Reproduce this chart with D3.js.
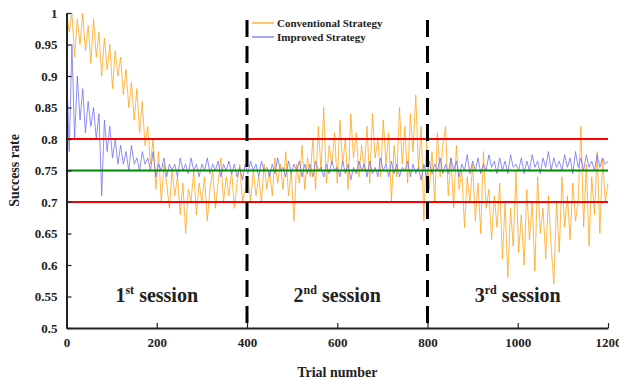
<!DOCTYPE html>
<html>
<head>
<meta charset="utf-8">
<script src="https://cdn.jsdelivr.net/npm/d3@7"></script>
<style>
	body { margin: 0; background: #fff; }
	text { font-family: "Liberation Serif", "Times New Roman", serif; font-weight: bold; fill: #222; }
</style>
</head>
<body>
<svg width="619" height="379"></svg>
<script>
// trials sampled every 6 steps, 0..1200
const step = 6;

const conventional = [
	1.0, 0.97, 1.0, 0.93, 0.99, 0.95, 1.0, 0.94, 0.98, 0.92,
	0.99, 0.93, 0.97, 0.90, 0.96, 0.91, 0.95, 0.88, 0.94, 0.90,
	0.93, 0.87, 0.91, 0.85, 0.89, 0.83, 0.88, 0.81, 0.86, 0.79,
	0.82, 0.76, 0.80, 0.72, 0.78, 0.70, 0.76, 0.73, 0.69, 0.75,
	0.71, 0.74, 0.68, 0.73, 0.65, 0.72, 0.70, 0.75, 0.68, 0.73,
	0.70, 0.74, 0.67, 0.72, 0.75, 0.69, 0.73, 0.77, 0.70, 0.74,
	0.71, 0.75, 0.69, 0.73, 0.76, 0.70, 0.72, 0.74, 0.70, 0.75,
	0.71, 0.74, 0.70, 0.76, 0.72, 0.75, 0.71, 0.77, 0.73, 0.76,
	0.72, 0.78, 0.71, 0.75, 0.67, 0.76, 0.73, 0.79, 0.72, 0.77,
	0.74, 0.80, 0.72, 0.82, 0.75, 0.85, 0.73, 0.79, 0.76, 0.81,
	0.73, 0.83, 0.76, 0.80, 0.72, 0.84, 0.77, 0.81, 0.74, 0.79,
	0.75, 0.82, 0.73, 0.84, 0.77, 0.80, 0.74, 0.83, 0.76, 0.81,
	0.70, 0.79, 0.74, 0.85, 0.76, 0.82, 0.73, 0.84, 0.78, 0.87,
	0.75, 0.82, 0.67, 0.80, 0.72, 0.78, 0.70, 0.81, 0.74, 0.79,
	0.82, 0.71, 0.77, 0.69, 0.79, 0.72, 0.75, 0.66, 0.74, 0.70,
	0.76, 0.67, 0.73, 0.65, 0.78, 0.69, 0.72, 0.64, 0.71, 0.66,
	0.73, 0.61, 0.70, 0.58, 0.69, 0.63, 0.75, 0.62, 0.68, 0.60,
	0.72, 0.64, 0.70, 0.59, 0.74, 0.65, 0.69, 0.61, 0.71, 0.63,
	0.57, 0.70, 0.62, 0.74, 0.66, 0.71, 0.64, 0.73, 0.67, 0.70,
	0.82, 0.66, 0.76, 0.63, 0.74, 0.68, 0.78, 0.65, 0.77, 0.70,
	0.73
];

const improved = [
	0.92, 0.78, 0.95, 0.80, 0.90, 0.83, 0.88, 0.81, 0.86, 0.82,
	0.85, 0.80, 0.84, 0.71, 0.83, 0.78, 0.82, 0.77, 0.80, 0.76,
	0.79, 0.76, 0.78, 0.75, 0.79, 0.76, 0.77, 0.75, 0.78, 0.76,
	0.77, 0.75, 0.78, 0.74, 0.76, 0.75, 0.77, 0.74, 0.76, 0.75,
	0.76, 0.74, 0.77, 0.75, 0.76, 0.745, 0.77, 0.75, 0.76, 0.74,
	0.76, 0.75, 0.77, 0.745, 0.76, 0.75, 0.765, 0.74, 0.76, 0.75,
	0.765, 0.745, 0.76, 0.74, 0.755, 0.735, 0.76, 0.745, 0.765, 0.75,
	0.76, 0.74, 0.765, 0.75, 0.755, 0.74, 0.76, 0.745, 0.77, 0.75,
	0.755, 0.74, 0.765, 0.745, 0.76, 0.75, 0.765, 0.74, 0.76, 0.745,
	0.76, 0.74, 0.765, 0.75, 0.755, 0.74, 0.76, 0.745, 0.765, 0.75,
	0.755, 0.74, 0.765, 0.745, 0.76, 0.735, 0.755, 0.745, 0.765, 0.75,
	0.76, 0.74, 0.765, 0.745, 0.755, 0.74, 0.77, 0.75, 0.76, 0.74,
	0.765, 0.745, 0.76, 0.74, 0.755, 0.75, 0.765, 0.74, 0.76, 0.745,
	0.755, 0.735, 0.76, 0.74, 0.765, 0.745, 0.76, 0.75, 0.77, 0.745,
	0.76, 0.745, 0.77, 0.75, 0.765, 0.74, 0.76, 0.75, 0.775, 0.745,
	0.765, 0.75, 0.77, 0.745, 0.76, 0.75, 0.775, 0.755, 0.765, 0.745,
	0.77, 0.75, 0.765, 0.745, 0.775, 0.755, 0.76, 0.75, 0.77, 0.745,
	0.765, 0.75, 0.775, 0.755, 0.765, 0.745, 0.77, 0.755, 0.78, 0.75,
	0.77, 0.755, 0.765, 0.75, 0.775, 0.755, 0.77, 0.745, 0.78, 0.755,
	0.77, 0.75, 0.775, 0.755, 0.765, 0.75, 0.775, 0.755, 0.77, 0.76,
	0.765
];

const yTicks = [0.5, 0.55, 0.6, 0.65, 0.7, 0.75, 0.8, 0.85, 0.9, 0.95, 1];
const xTicks = [0, 200, 400, 600, 800, 1000, 1200];
const sessionBounds = [400, 800];
const sessions = [
	{ at: 200, num: "1", sup: "st" },
	{ at: 600, num: "2", sup: "nd" },
	{ at: 1000, num: "3", sup: "rd" }
];
const limits = [
	{ value: 0.8, color: "#ff0000" },
	{ value: 0.7, color: "#ff0000" },
	{ value: 0.75, color: "#008800" }
];
const seriesNames = ["Conventional Strategy", "Improved Strategy"];
const seriesColors = ["#ffa010", "#6a6af5"];

const svg = d3.select("svg");
const mLeft = 66.5, mRight = 608, mTop = 13, mBottom = 328;

const x = d3.scaleLinear().domain([0, 1200]).range([mLeft, mRight]);
const y = d3.scaleLinear().domain([0.5, 1]).range([mBottom, mTop]);

const line = d3.line()
	.x((d, i) => x(i * step))
	.y(d => y(d));

const plot = svg.append("g");

[conventional, improved].forEach((vals, k) => {
	plot.append("path")
		.datum(vals)
		.attr("d", line)
		.attr("fill", "none")
		.attr("stroke", seriesColors[k])
		.attr("stroke-opacity", 0.75)
		.attr("stroke-width", 1);
});

plot.selectAll(".limit")
	.data(limits)
	.join("line")
	.attr("class", "limit")
	.attr("x1", mLeft)
	.attr("x2", mRight)
	.attr("y1", d => y(d.value))
	.attr("y2", d => y(d.value))
	.attr("stroke", d => d.color)
	.attr("stroke-width", 2);

plot.selectAll(".bound")
	.data(sessionBounds)
	.join("line")
	.attr("class", "bound")
	.attr("x1", d => x(d))
	.attr("x2", d => x(d))
	.attr("y1", 20)
	.attr("y2", mBottom)
	.attr("stroke", "#000")
	.attr("stroke-width", 3)
	.attr("stroke-dasharray", "17,9");

// axes, ticks pointing inward
const yAxis = svg.append("g")
	.attr("transform", `translate(${mLeft},0)`)
	.call(d3.axisLeft(y).tickValues(yTicks).tickSizeInner(-5).tickSizeOuter(0)
		.tickPadding(9).tickFormat(d => String(+d.toFixed(2))));

const xAxis = svg.append("g")
	.attr("transform", `translate(0,${mBottom})`)
	.call(d3.axisBottom(x).tickValues(xTicks).tickSizeInner(-5).tickSizeOuter(0)
		.tickPadding(10).tickFormat(d3.format("d")));

[yAxis, xAxis].forEach(a => {
	a.select(".domain").attr("stroke", "#222").attr("stroke-width", 2);
	a.selectAll(".tick line").attr("stroke", "#222").attr("stroke-width", 1.2);
	a.selectAll(".tick text")
		.attr("font-family", null)
		.attr("font-size", 13)
		.attr("fill", "#222");
});

svg.append("text")
	.attr("x", (mLeft + mRight) / 2)
	.attr("y", 377)
	.attr("text-anchor", "middle")
	.attr("font-size", 14)
	.text("Trial number");

svg.append("text")
	.attr("transform", `translate(19,${(mTop + mBottom) / 2}) rotate(-90)`)
	.attr("text-anchor", "middle")
	.attr("font-size", 14)
	.text("Success rate");

// session labels
const sess = svg.selectAll(".session")
	.data(sessions)
	.join("text")
	.attr("class", "session")
	.attr("x", d => x(d.at))
	.attr("y", 302)
	.attr("text-anchor", "middle")
	.attr("font-size", 20);

sess.append("tspan").text(d => d.num);
sess.append("tspan").attr("dy", -8).attr("font-size", 12).text(d => d.sup);
sess.append("tspan").attr("dy", 8).text(d => " session");

// legend
const legend = svg.append("g").attr("transform", "translate(252,0)");
seriesNames.forEach((name, k) => {
	const ly = 23 + k * 14;
	legend.append("line")
		.attr("x1", 0).attr("x2", 22)
		.attr("y1", ly).attr("y2", ly)
		.attr("stroke", seriesColors[k])
		.attr("stroke-width", 1.2);
	legend.append("text")
		.attr("x", 25)
		.attr("y", ly + 4)
		.attr("font-size", 11)
		.text(name);
});
</script>
</body>
</html>
